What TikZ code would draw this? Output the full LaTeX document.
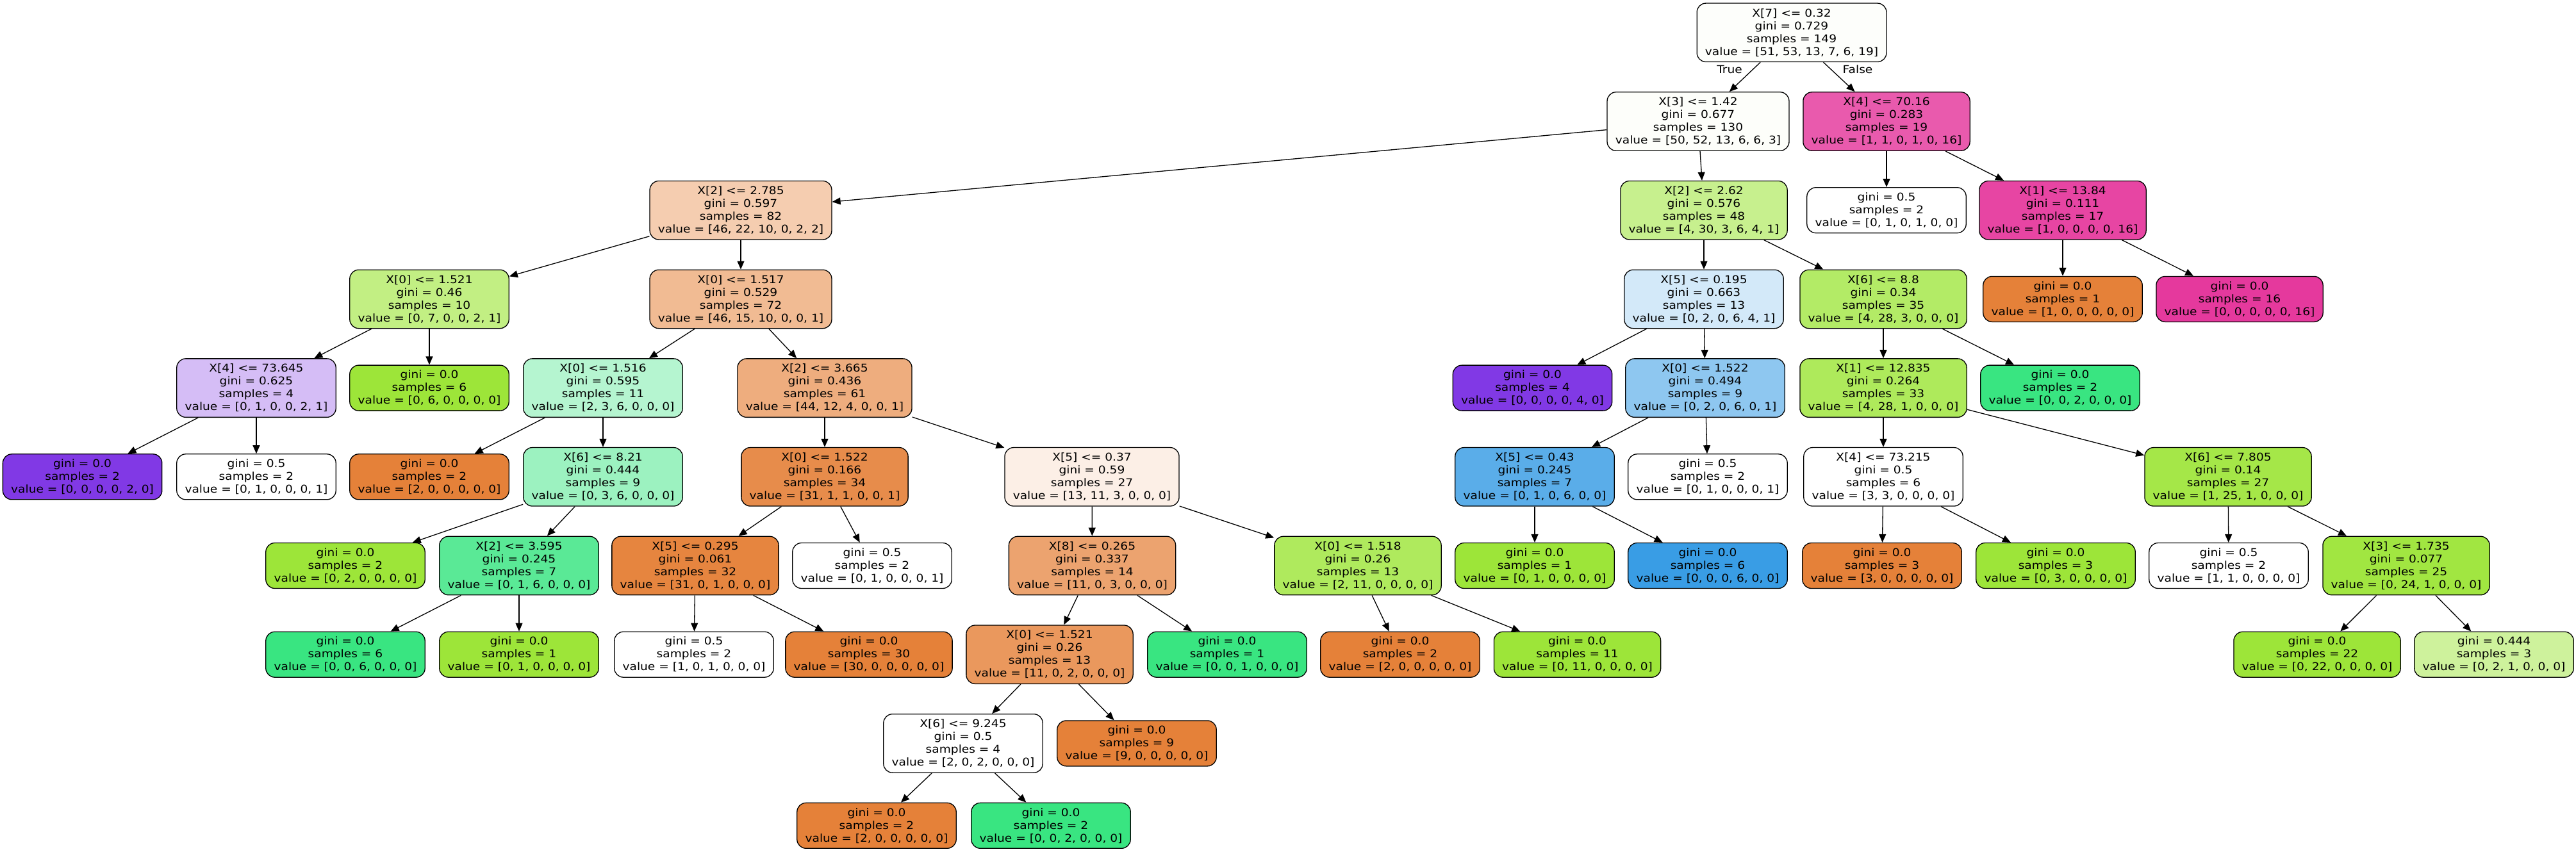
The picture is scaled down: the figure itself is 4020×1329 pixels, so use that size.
\documentclass[tikz,border=0pt]{standalone}
\usepackage{fontspec}
\usetikzlibrary{arrows.meta}
\newfontfamily\dvfont[FakeStretch=1.107]{DejaVu Sans}
\definecolor{cOr}{HTML}{E58139}
\definecolor{cLi}{HTML}{9DE539}
\definecolor{cGr}{HTML}{39E581}
\definecolor{cBl}{HTML}{399DE5}
\definecolor{cPu}{HTML}{8139E5}
\definecolor{cPi}{HTML}{E5399D}
\definecolor{cA}{HTML}{FDFEFB}
\definecolor{cB}{HTML}{FDFEFA}
\definecolor{cC}{HTML}{E95AAD}
\definecolor{cD}{HTML}{F5CDB0}
\definecolor{cE}{HTML}{C7F08E}
\definecolor{cF}{HTML}{E745A3}
\definecolor{cG}{HTML}{C2EF83}
\definecolor{cH}{HTML}{F1BB93}
\definecolor{cI}{HTML}{D3E9F9}
\definecolor{cJ}{HTML}{B3EB66}
\definecolor{cK}{HTML}{D5BDF6}
\definecolor{cL}{HTML}{B5F5D0}
\definecolor{cM}{HTML}{EEAD7E}
\definecolor{cN}{HTML}{8EC7F0}
\definecolor{cO}{HTML}{AEEA5B}
\definecolor{cP}{HTML}{9CF2C0}
\definecolor{cQ}{HTML}{E78C4B}
\definecolor{cR}{HTML}{FCEFE6}
\definecolor{cS}{HTML}{5AADE9}
\definecolor{cT}{HTML}{A5E748}
\definecolor{cU}{HTML}{5AE996}
\definecolor{cV}{HTML}{E6853F}
\definecolor{cW}{HTML}{ECA36F}
\definecolor{cX}{HTML}{AFEA5D}
\definecolor{cY}{HTML}{A1E641}
\definecolor{cZ}{HTML}{EA985D}
\definecolor{cAA}{HTML}{CEF29C}
\tikzset{
  dtbox/.style={draw=black, line width=0.65pt, rounded corners=7pt, inner xsep=6.4pt, inner ysep=0pt, align=center, font=\dvfont\fontsize{8.4pt}{10pt}\selectfont},
  split/.style={dtbox, minimum height=45.75pt},
  leaf/.style={dtbox, minimum height=35.5pt},
  arr/.style={-{Triangle[length=6.5pt,width=5.5pt]}, line width=0.65pt},
  elab/.style={inner sep=0pt, font=\dvfont\fontsize{8.4pt}{10pt}\selectfont}
}
\begin{document}
\begin{tikzpicture}[x=0.5pt,y=-0.5pt]
\useasboundingbox (0,0) rectangle (4020,1329);
% level 0
\node[split,fill=cA] (n0) at (2796,50.8) {X[7] <= 0.32\\gini = 0.729\\samples = 149\\value = [51, 53, 13, 7, 6, 19]};
% level 1
\node[split,fill=cB] (n1) at (2650,189.5) {X[3] <= 1.42\\gini = 0.677\\samples = 130\\value = [50, 52, 13, 6, 6, 3]};
\node[split,fill=cC] (n2) at (2944,189.5) {X[4] <= 70.16\\gini = 0.283\\samples = 19\\value = [1, 1, 0, 1, 0, 16]};
% level 2
\node[split,fill=cD] (n3) at (1156,328.2) {X[2] <= 2.785\\gini = 0.597\\samples = 82\\value = [46, 22, 10, 0, 2, 2]};
\node[split,fill=cE] (n4) at (2659,328.2) {X[2] <= 2.62\\gini = 0.576\\samples = 48\\value = [4, 30, 3, 6, 4, 1]};
\node[leaf,fill=white] (n5) at (2944,328.2) {gini = 0.5\\samples = 2\\value = [0, 1, 0, 1, 0, 0]};
\node[split,fill=cF] (n6) at (3219,328.2) {X[1] <= 13.84\\gini = 0.111\\samples = 17\\value = [1, 0, 0, 0, 0, 16]};
% level 3
\node[split,fill=cG] (n7) at (670,466.9) {X[0] <= 1.521\\gini = 0.46\\samples = 10\\value = [0, 7, 0, 0, 2, 1]};
\node[split,fill=cH] (n8) at (1156,466.9) {X[0] <= 1.517\\gini = 0.529\\samples = 72\\value = [46, 15, 10, 0, 0, 1]};
\node[split,fill=cI] (n9) at (2659,466.9) {X[5] <= 0.195\\gini = 0.663\\samples = 13\\value = [0, 2, 0, 6, 4, 1]};
\node[split,fill=cJ] (n10) at (2939,466.9) {X[6] <= 8.8\\gini = 0.34\\samples = 35\\value = [4, 28, 3, 0, 0, 0]};
\node[leaf,fill=cOr] (n11) at (3219,466.9) {gini = 0.0\\samples = 1\\value = [1, 0, 0, 0, 0, 0]};
\node[leaf,fill=cPi] (n12) at (3495,466.9) {gini = 0.0\\samples = 16\\value = [0, 0, 0, 0, 0, 16]};
% level 4
\node[split,fill=cK] (n13) at (400,605.6) {X[4] <= 73.645\\gini = 0.625\\samples = 4\\value = [0, 1, 0, 0, 2, 1]};
\node[leaf,fill=cLi] (n14) at (670,605.6) {gini = 0.0\\samples = 6\\value = [0, 6, 0, 0, 0, 0]};
\node[split,fill=cL] (n15) at (941,605.6) {X[0] <= 1.516\\gini = 0.595\\samples = 11\\value = [2, 3, 6, 0, 0, 0]};
\node[split,fill=cM] (n16) at (1287,605.6) {X[2] <= 3.665\\gini = 0.436\\samples = 61\\value = [44, 12, 4, 0, 0, 1]};
\node[leaf,fill=cPu] (n17) at (2391.5,605.6) {gini = 0.0\\samples = 4\\value = [0, 0, 0, 0, 4, 0]};
\node[split,fill=cN] (n18) at (2661,605.6) {X[0] <= 1.522\\gini = 0.494\\samples = 9\\value = [0, 2, 0, 6, 0, 1]};
\node[split,fill=cO] (n19) at (2939,605.6) {X[1] <= 12.835\\gini = 0.264\\samples = 33\\value = [4, 28, 1, 0, 0, 0]};
\node[leaf,fill=cGr] (n20) at (3215,605.6) {gini = 0.0\\samples = 2\\value = [0, 0, 2, 0, 0, 0]};
% level 5
\node[leaf,fill=cPu] (n21) at (128.6,744.3) {gini = 0.0\\samples = 2\\value = [0, 0, 0, 0, 2, 0]};
\node[leaf,fill=white] (n22) at (400,744.3) {gini = 0.5\\samples = 2\\value = [0, 1, 0, 0, 0, 1]};
\node[leaf,fill=cOr] (n23) at (670,744.3) {gini = 0.0\\samples = 2\\value = [2, 0, 0, 0, 0, 0]};
\node[split,fill=cP] (n24) at (941,744.3) {X[6] <= 8.21\\gini = 0.444\\samples = 9\\value = [0, 3, 6, 0, 0, 0]};
\node[split,fill=cQ] (n25) at (1287,744.3) {X[0] <= 1.522\\gini = 0.166\\samples = 34\\value = [31, 1, 1, 0, 0, 1]};
\node[split,fill=cR] (n26) at (1704,744.3) {X[5] <= 0.37\\gini = 0.59\\samples = 27\\value = [13, 11, 3, 0, 0, 0]};
\node[split,fill=cS] (n27) at (2395,744.3) {X[5] <= 0.43\\gini = 0.245\\samples = 7\\value = [0, 1, 0, 6, 0, 0]};
\node[leaf,fill=white] (n28) at (2665,744.3) {gini = 0.5\\samples = 2\\value = [0, 1, 0, 0, 0, 1]};
\node[split,fill=white] (n29) at (2939,744.3) {X[4] <= 73.215\\gini = 0.5\\samples = 6\\value = [3, 3, 0, 0, 0, 0]};
\node[split,fill=cT] (n30) at (3477,744.3) {X[6] <= 7.805\\gini = 0.14\\samples = 27\\value = [1, 25, 1, 0, 0, 0]};
% level 6
\node[leaf,fill=cLi] (n31) at (539,883) {gini = 0.0\\samples = 2\\value = [0, 2, 0, 0, 0, 0]};
\node[split,fill=cU] (n32) at (810,883) {X[2] <= 3.595\\gini = 0.245\\samples = 7\\value = [0, 1, 6, 0, 0, 0]};
\node[split,fill=cV] (n33) at (1085,883) {X[5] <= 0.295\\gini = 0.061\\samples = 32\\value = [31, 0, 1, 0, 0, 0]};
\node[leaf,fill=white] (n34) at (1361,883) {gini = 0.5\\samples = 2\\value = [0, 1, 0, 0, 0, 1]};
\node[split,fill=cW] (n35) at (1704.5,883) {X[8] <= 0.265\\gini = 0.337\\samples = 14\\value = [11, 0, 3, 0, 0, 0]};
\node[split,fill=cX] (n36) at (2119,883) {X[0] <= 1.518\\gini = 0.26\\samples = 13\\value = [2, 11, 0, 0, 0, 0]};
\node[leaf,fill=cLi] (n37) at (2395,883) {gini = 0.0\\samples = 1\\value = [0, 1, 0, 0, 0, 0]};
\node[leaf,fill=cBl] (n38) at (2665,883) {gini = 0.0\\samples = 6\\value = [0, 0, 0, 6, 0, 0]};
\node[leaf,fill=cOr] (n39) at (2937,883) {gini = 0.0\\samples = 3\\value = [3, 0, 0, 0, 0, 0]};
\node[leaf,fill=cLi] (n40) at (3208,883) {gini = 0.0\\samples = 3\\value = [0, 3, 0, 0, 0, 0]};
\node[leaf,fill=white] (n41) at (3478,883) {gini = 0.5\\samples = 2\\value = [1, 1, 0, 0, 0, 0]};
\node[split,fill=cY] (n42) at (3755,883) {X[3] <= 1.735\\gini = 0.077\\samples = 25\\value = [0, 24, 1, 0, 0, 0]};
% level 7
\node[leaf,fill=cGr] (n43) at (539,1021.7) {gini = 0.0\\samples = 6\\value = [0, 0, 6, 0, 0, 0]};
\node[leaf,fill=cLi] (n44) at (810,1021.7) {gini = 0.0\\samples = 1\\value = [0, 1, 0, 0, 0, 0]};
\node[leaf,fill=white] (n45) at (1083,1021.7) {gini = 0.5\\samples = 2\\value = [1, 0, 1, 0, 0, 0]};
\node[leaf,fill=cOr] (n46) at (1356,1021.7) {gini = 0.0\\samples = 30\\value = [30, 0, 0, 0, 0, 0]};
\node[split,fill=cZ] (n47) at (1638,1021.7) {X[0] <= 1.521\\gini = 0.26\\samples = 13\\value = [11, 0, 2, 0, 0, 0]};
\node[leaf,fill=cGr] (n48) at (1915,1021.7) {gini = 0.0\\samples = 1\\value = [0, 0, 1, 0, 0, 0]};
\node[leaf,fill=cOr] (n49) at (2185,1021.7) {gini = 0.0\\samples = 2\\value = [2, 0, 0, 0, 0, 0]};
\node[leaf,fill=cLi] (n50) at (2461.5,1021.7) {gini = 0.0\\samples = 11\\value = [0, 11, 0, 0, 0, 0]};
\node[leaf,fill=cLi] (n51) at (3616,1021.7) {gini = 0.0\\samples = 22\\value = [0, 22, 0, 0, 0, 0]};
\node[leaf,fill=cAA] (n52) at (3892,1021.7) {gini = 0.444\\samples = 3\\value = [0, 2, 1, 0, 0, 0]};
% level 8
\node[split,fill=white] (n53) at (1503,1160.4) {X[6] <= 9.245\\gini = 0.5\\samples = 4\\value = [2, 0, 2, 0, 0, 0]};
\node[leaf,fill=cOr] (n54) at (1774,1160.4) {gini = 0.0\\samples = 9\\value = [9, 0, 0, 0, 0, 0]};
% level 9
\node[leaf,fill=cOr] (n55) at (1368,1288.8) {gini = 0.0\\samples = 2\\value = [2, 0, 0, 0, 0, 0]};
\node[leaf,fill=cGr] (n56) at (1640,1288.8) {gini = 0.0\\samples = 2\\value = [0, 0, 2, 0, 0, 0]};
% edge labels
\node[elab] (lt) at (2699,108.5) {True};
\node[elab] (lf) at (2899,108.5) {False};
% edges
\foreach \a/\b in {n0/n1,n0/n2,n1/n3,n1/n4,n2/n5,n2/n6,n3/n7,n3/n8,n4/n9,n4/n10,n6/n11,n6/n12,
  n7/n13,n7/n14,n8/n15,n8/n16,n9/n17,n9/n18,n10/n19,n10/n20,n13/n21,n13/n22,n15/n23,n15/n24,
  n16/n25,n16/n26,n18/n27,n18/n28,n19/n29,n19/n30,n24/n31,n24/n32,n25/n33,n25/n34,n26/n35,n26/n36,
  n27/n37,n27/n38,n29/n39,n29/n40,n30/n41,n30/n42,n32/n43,n32/n44,n33/n45,n33/n46,n35/n47,n35/n48,
  n36/n49,n36/n50,n42/n51,n42/n52,n47/n53,n47/n54,n53/n55,n53/n56}
  \draw[arr] (\a) -- (\b);
\end{tikzpicture}
\end{document}
